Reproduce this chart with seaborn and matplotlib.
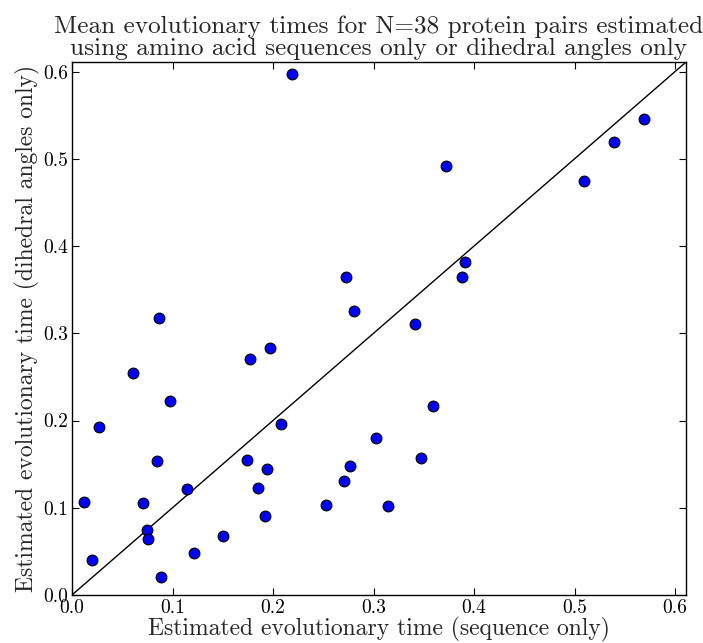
import matplotlib
matplotlib.use("Agg")
import matplotlib.pyplot as plt
import seaborn as sns
import pandas as pd

seq_time = [0.2186, 0.273, 0.281, 0.0868, 0.372, 0.569, 0.539, 0.5096, 0.391, 0.388,
            0.0609, 0.177, 0.197, 0.0975, 0.0266, 0.208, 0.3025, 0.0842, 0.1743, 0.1943,
            0.2768, 0.2708, 0.1144, 0.1846, 0.012, 0.0709, 0.2532, 0.1916, 0.0749, 0.0758,
            0.1507, 0.1211, 0.020, 0.0888, 0.341, 0.359, 0.347, 0.314]
dih_time = [0.5967, 0.365, 0.325, 0.318, 0.4923, 0.5455, 0.5195, 0.4744, 0.3815, 0.3647,
            0.2546, 0.270, 0.2833, 0.2225, 0.1923, 0.1961, 0.180, 0.1533, 0.1545, 0.1449,
            0.1479, 0.1307, 0.1216, 0.1223, 0.1063, 0.1055, 0.1032, 0.0902, 0.0745, 0.0642,
            0.0673, 0.0482, 0.0405, 0.021, 0.311, 0.2167, 0.1567, 0.1017]
lim = 0.611
title = "Mean evolutionary times for N=38 protein pairs estimated\nusing amino acid sequences only or dihedral angles only"
xlabel = "Estimated evolutionary time (sequence only)"
ylabel = "Estimated evolutionary time (dihedral angles only)"
ticks = [0.0, 0.1, 0.2, 0.3, 0.4, 0.5, 0.6]

df = pd.DataFrame({"seq": seq_time, "dih": dih_time})

sns.set_style("ticks")
plt.rcParams["font.family"] = ["cmr10", "DejaVu Serif"]
plt.rcParams["axes.formatter.use_mathtext"] = True
plt.rcParams["mathtext.fontset"] = "cm"

fig = plt.figure(figsize=(7.03, 6.43), dpi=100)
ax = fig.add_axes([0.1024, 0.0747, 0.8736, 0.8289])
ax.plot([0, lim], [0, lim], color="black", lw=1.0, zorder=1)
sns.scatterplot(data=df, x="seq", y="dih", ax=ax, s=60, color="#0000ff",
                edgecolor="black", linewidth=0.8, zorder=2)
ax.set_xlim(0, lim)
ax.set_ylim(0, lim)
ax.set_xticks(ticks)
ax.set_yticks(ticks)
ax.set_xticklabels([f"{t:.1f}" for t in ticks])
ax.set_yticklabels([f"{t:.1f}" for t in ticks])
ax.tick_params(direction="in", top=True, right=True, length=5, width=0.8,
               labelsize=14, colors="black", pad=3)
for sp in ax.spines.values():
    sp.set_color("black")
    sp.set_linewidth(1.0)
ax.set_xlabel(xlabel, fontsize=17, labelpad=0)
ax.set_ylabel(ylabel, fontsize=17, labelpad=2)
ax.set_title(title, fontsize=18.2, pad=5, linespacing=1.02)
fig.savefig("out.png", dpi=100)
